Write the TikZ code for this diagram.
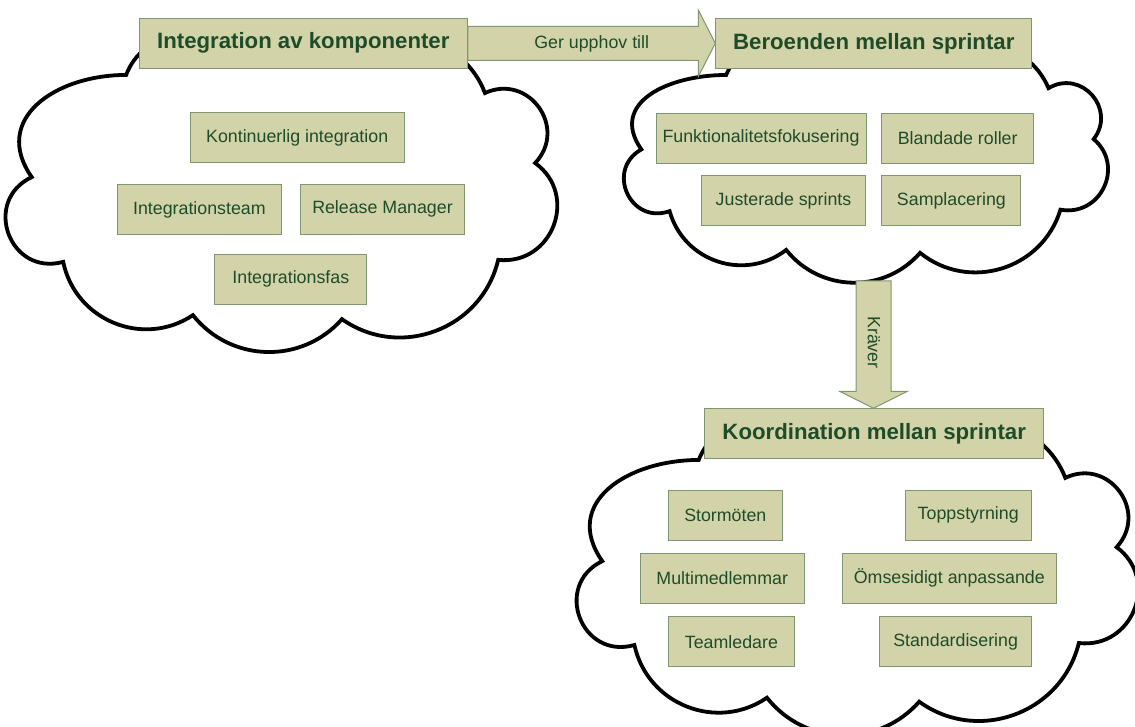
\documentclass[tikz,border=0pt]{standalone}
\usepackage{fontspec}
\setmainfont{Liberation Sans}
\usetikzlibrary{calc}
\definecolor{boxfill}{RGB}{211,211,170}
\definecolor{boxline}{RGB}{128,150,112}
\definecolor{boxtext}{RGB}{30,76,40}

\tikzset{
    cloudline/.style={draw=black, fill=white, line width=3.8pt, line join=miter, miter limit=3},
    itembox/.style={draw=boxline, fill=boxfill, line width=1pt, text=boxtext, inner sep=3pt,
                    minimum height=50pt, font=\fontsize{17.8}{21}\selectfont},
    titlebox/.style={itembox, font=\bfseries\fontsize{22.2}{26}\selectfont},
    blockarrow/.style={draw=boxline, fill=boxfill, line width=1pt, line join=miter},
    arrowtext/.style={text=boxtext, inner sep=0pt, font=\fontsize{17.8}{21}\selectfont}
}

% cloud outline: left, top, width, height (points of the outline in percent of the box)
\newcommand{\drawcloud}[4]{%
    \draw[cloudline] ({#1+#3/100*21.4},{#2+#4/100*17})
        \foreach \px/\py/\bend/\loose in {40/12/60/1.14, 62/12/45/1.0, 86.4/22.4/55/1.08,
            95.5/43.3/79/1.43, 88.8/72.2/75/1.35, 60.5/89.9/56/1.09, 33.5/88.7/50/1.04,
            10/72.8/56/1.09, 4.3/47.5/85/1.57}
        { to[bend left=\bend, looseness=\loose] ({#1+#3/100*\px},{#2+#4/100*\py}) }
        to[out=125, in=180, looseness=1.3] ({#1+#3/100*21.4},{#2+#4/100*17}) -- cycle;
}

\begin{document}
\begin{tikzpicture}[x=1pt, y=-1pt]
    \useasboundingbox (0,0) rectangle (1135,727);
    \clip (0,0) rectangle (1135,727);

    % clouds
    \drawcloud{8}{18}{552}{335}
    \drawcloud{620}{33.5}{496}{244}
    \drawcloud{578}{403.6}{564}{331.6}

    % Integration av komponenter
    \node[titlebox, minimum width=328pt] (integ) at (303.3,43.3) {Integration av komponenter};
    \node[itembox, minimum width=214pt] (kont) at (297.2,137.7) {Kontinuerlig integration};
    \node[itembox, minimum width=164pt] (iteam) at (199.4,210) {Integrationsteam};
    \node[itembox, minimum width=164pt] (relman) at (382.5,209.2) {Release Manager};
    \node[itembox, minimum width=152pt] (ifas) at (290.8,279.3) {Integrationsfas};

    % Beroenden mellan sprintar
    \node[titlebox, minimum width=316pt] (beroende) at (873.8,43.3) {Beroenden mellan sprintar};
    \node[itembox, minimum width=210pt] (funk) at (761,138.3) {Funktionalitetsfokusering};
    \node[itembox, minimum width=151.5pt] (bland) at (957.7,138.3) {Blandade roller};
    \node[itembox, minimum width=164pt] (juster) at (783.5,201) {Justerade sprints};
    \node[itembox, minimum width=139pt] (sampl) at (951.4,201) {Samplacering};

    % Koordination mellan sprintar
    \node[titlebox, minimum width=339.5pt] (koord) at (874.2,433.8) {Koordination mellan sprintar};
    \node[itembox, minimum width=114.6pt] (storm) at (725.3,515.3) {Stormöten};
    \node[itembox, minimum width=126pt] (topp) at (968.2,515.3) {Toppstyrning};
    \node[itembox, minimum width=164pt] (multi) at (722.2,578.3) {Multimedlemmar};
    \node[itembox, minimum width=214.4pt] (omses) at (949.3,578.3) {Ömsesidigt anpassande};
    \node[itembox, minimum width=126pt] (teaml) at (731.4,641.7) {Teamledare};
    \node[itembox, minimum width=151.4pt] (standard) at (955.6,641.7) {Standardisering};

    % block arrows
    \draw[blockarrow] ([yshift=17pt]integ.east) -- ([xshift=-17pt,yshift=17pt]beroende.west)
        -- ([xshift=-17pt,yshift=33.3pt]beroende.west) -- (beroende.west)
        -- ([xshift=-17pt,yshift=-33.3pt]beroende.west) -- ([xshift=-17pt,yshift=-17pt]beroende.west)
        -- ([yshift=-17pt]integ.east) -- cycle;
    \node[arrowtext] (gerlabel) at (591.7,43.5) {Ger upphov till};

    \coordinate (kravtop) at (873.5,281);
    \coordinate (kravtip) at (kravtop |- koord.north);
    \draw[blockarrow] ([xshift=-17.5pt]kravtop) -- ([xshift=-17.5pt,yshift=17pt]kravtip)
        -- ([xshift=-34pt,yshift=17pt]kravtip) -- (kravtip) -- ([xshift=34pt,yshift=17pt]kravtip)
        -- ([xshift=17.5pt,yshift=17pt]kravtip) -- ([xshift=17.5pt]kravtop) -- cycle;
    \node[arrowtext, rotate=-90] (kravlabel) at (874,342.5) {Kräver};
\end{tikzpicture}
\end{document}
